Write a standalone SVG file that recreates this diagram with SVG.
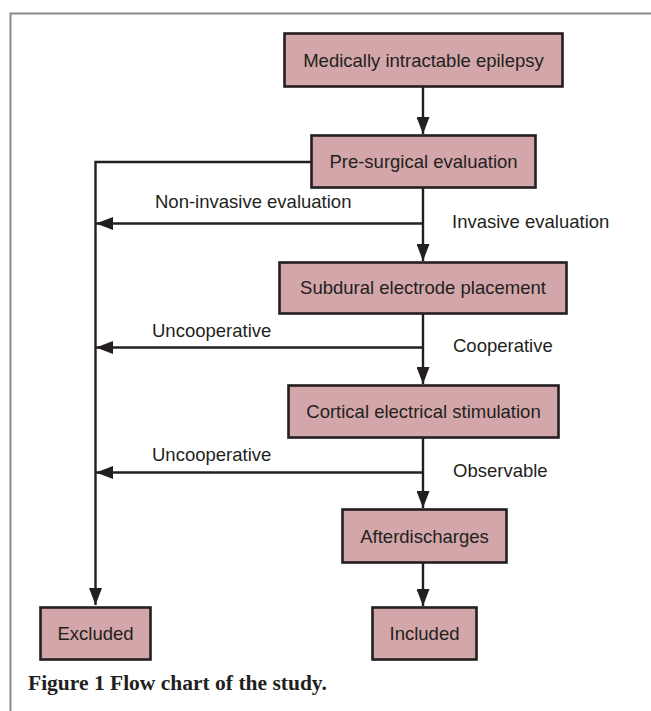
<svg xmlns="http://www.w3.org/2000/svg" width="651" height="711" viewBox="0 0 651 711">
<defs>
<marker id="ah" markerUnits="userSpaceOnUse" markerWidth="17" markerHeight="13" refX="17" refY="6.5" orient="auto">
<path d="M0,0 L17,6.5 L0,13 z" fill="#231f20"/>
</marker>
<style>
.box{fill:#d3a6a9;stroke:#231f20;stroke-width:2.6}
.t{font-family:"Liberation Sans",Arial,sans-serif;font-size:18.5px;fill:#231f20}
.c{text-anchor:middle}
.ln{fill:none;stroke:#231f20;stroke-width:2.4}
.cap{font-family:"Liberation Serif","Times New Roman",serif;font-size:21.5px;font-weight:bold;fill:#231f20}
</style>
</defs>
<rect width="651" height="711" fill="#ffffff"/>
<rect x="10.5" y="13.5" width="700" height="800" fill="none" stroke="#8a8a8a" stroke-width="2"/>
<g id="connectors">
<line class="ln" x1="423" y1="86" x2="423" y2="134" marker-end="url(#ah)"/>
<polyline class="ln" points="311,162 95.5,162 95.5,605" marker-end="url(#ah)"/>
<line class="ln" x1="423" y1="187" x2="423" y2="261" marker-end="url(#ah)"/>
<line class="ln" x1="423" y1="223.5" x2="96" y2="223.5" marker-end="url(#ah)"/>
<line class="ln" x1="423" y1="313" x2="423" y2="384" marker-end="url(#ah)"/>
<line class="ln" x1="423" y1="347.5" x2="96" y2="347.5" marker-end="url(#ah)"/>
<line class="ln" x1="423" y1="437" x2="423" y2="508" marker-end="url(#ah)"/>
<line class="ln" x1="423" y1="472.5" x2="96" y2="472.5" marker-end="url(#ah)"/>
<line class="ln" x1="423" y1="562" x2="423" y2="606" marker-end="url(#ah)"/>
<text class="t" x="155" y="208">Non-invasive evaluation</text>
<text class="t" x="452" y="228">Invasive evaluation</text>
<text class="t" x="152" y="337">Uncooperative</text>
<text class="t" x="453" y="352">Cooperative</text>
<text class="t" x="152" y="461">Uncooperative</text>
<text class="t" x="453" y="477">Observable</text>
</g>
<g id="n1"><rect class="box" x="284.5" y="33.5" width="278" height="53"/><text class="t c" x="423.5" y="66.5">Medically intractable epilepsy</text></g>
<g id="n2"><rect class="box" x="311.5" y="135.5" width="224" height="52"/><text class="t c" x="423.5" y="168">Pre-surgical evaluation</text></g>
<g id="n3"><rect class="box" x="279.5" y="262.5" width="287" height="51"/><text class="t c" x="423" y="294">Subdural electrode placement</text></g>
<g id="n4"><rect class="box" x="288.5" y="385.5" width="270" height="52"/><text class="t c" x="423.5" y="418">Cortical electrical stimulation</text></g>
<g id="n5"><rect class="box" x="342.5" y="509.5" width="164" height="53"/><text class="t c" x="424.5" y="543">Afterdischarges</text></g>
<g id="n6"><rect class="box" x="40.5" y="607.5" width="110" height="52"/><text class="t c" x="95.5" y="640">Excluded</text></g>
<g id="n7"><rect class="box" x="372.5" y="607.5" width="104" height="52"/><text class="t c" x="424.5" y="640">Included</text></g>
<text class="cap" x="28" y="690">Figure 1 Flow chart of the study.</text>
</svg>
